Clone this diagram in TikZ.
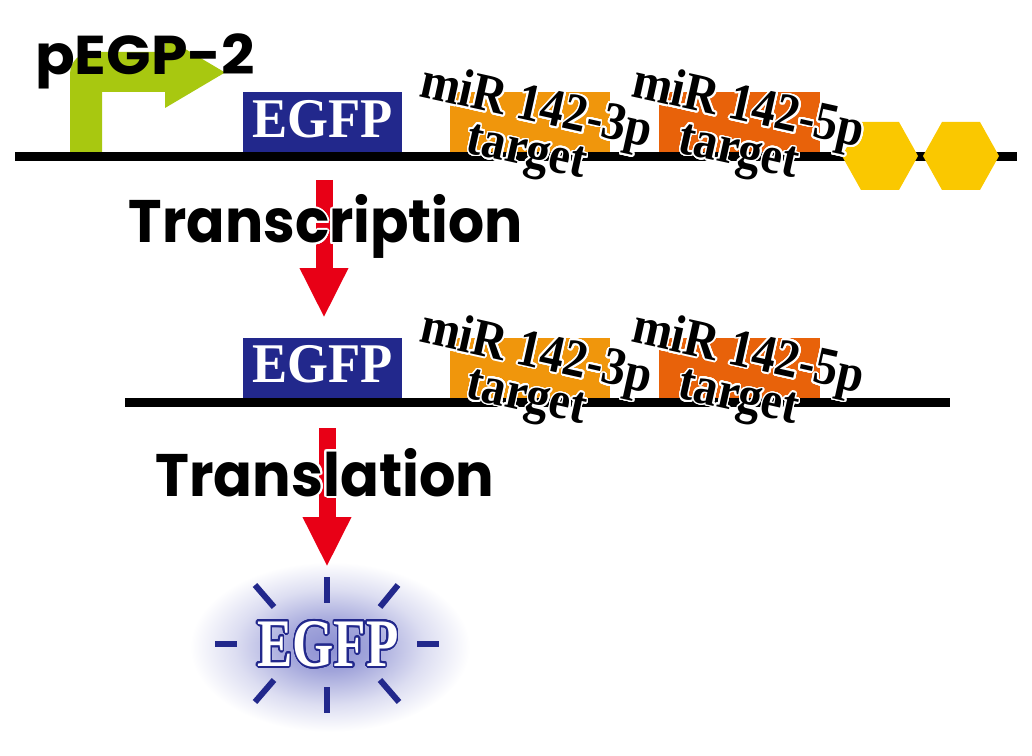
\documentclass[tikz,border=0pt]{standalone}
\usepackage{fontspec}
\setmainfont{Liberation Serif}
\newfontfamily\geofont{Poppins}
\usepackage[copies]{contour}
\contournumber{32}
\usetikzlibrary{arrows.meta}

\definecolor{promgreen}{RGB}{168,200,16}
\definecolor{egfpblue}{RGB}{34,40,140}
\definecolor{mirorangeA}{RGB}{240,150,12}
\definecolor{mirorangeB}{RGB}{232,98,10}
\definecolor{polyyellow}{RGB}{250,200,0}
\definecolor{arrowred}{RGB}{232,0,22}
\definecolor{glowblue}{RGB}{140,144,210}

\pgfdeclareradialshading{egfpglow}{\pgfpoint{0bp}{0bp}}{color(0bp)=(glowblue); color(7bp)=(glowblue!82!white); color(17bp)=(glowblue!30!white); color(25bp)=(white); color(50bp)=(white)}

\tikzset{
  dnaline/.style={line width=6.75pt},
  egfpbox/.style={fill=egfpblue, inner sep=0pt, minimum width=119.25pt, minimum height=45pt},
  egfptext/.style={text=white, inner sep=0pt, font=\bfseries\fontsize{42}{42}\selectfont},
  mirlabel/.style={align=center, inner sep=0pt, rotate=-12.5,
    font=\bfseries\fontsize{40}{18}\selectfont},
  steplabel/.style={anchor=base, inner sep=0pt, font=\geofont\bfseries\fontsize{45}{45}\selectfont},
  stepflow/.style={arrowred, line width=12.75pt, -{Triangle[width=33.75pt,length=37.5pt]}},
  glowray/.style={egfpblue, line width=4.5pt},
}

\newcommand{\mirtext}[1]{\contourlength{1.4pt}\scalebox{0.89}[1]{\contour{white}{miR 142-#1}}\\\scalebox{0.89}[1]{\contour{white}{target}}}

\begin{document}
\begin{tikzpicture}[x=0.75pt,y=0.75pt,yscale=-1,xscale=1]
\useasboundingbox (0,0) rectangle (1032,756);

%Shape: Glow behind the protein
\shade[shading=egfpglow] (330,647) ellipse (140 and 85);

%Shape: Promoter arrow
\fill[promgreen] (70,152) -- (70,74) arc (180:270:22) -- (165,52) -- (165,37) -- (225,72.5) -- (165,108) -- (165,92) -- (102,92) -- (102,152) -- cycle;

%Straight Lines: plasmid and mRNA
\coordinate (dnaL) at (15,156.5);
\coordinate (dnaR) at (1017,156.5);
\coordinate (rnaL) at (125,402);
\coordinate (rnaR) at (950,402);
\draw[dnaline] (dnaL) -- (dnaR);
\draw[dnaline] (rnaL) -- (rnaR);

%Shape: Boxes on the plasmid
\node[egfpbox] (egfpA) at (322.5,122) {};
\node[egfptext] at ([yshift=-2.25pt]egfpA.center) {\scalebox{0.94}[1]{EGFP}};
\fill[mirorangeA] (450,92) rectangle (610,152);
\fill[mirorangeB] (659,92) rectangle (820,152);

%Shape: Boxes on the mRNA
\node[egfpbox] (egfpB) at (322.5,367.5) {};
\node[egfptext] at ([yshift=-2.25pt]egfpB.center) {\scalebox{0.94}[1]{EGFP}};
\fill[mirorangeA] (450,337.5) rectangle (610,397.5);
\fill[mirorangeB] (659,337.5) rectangle (820,397.5);

%Shape: Poly-A hexagons
\foreach \hx in {880,961}
  \fill[polyyellow] (\hx-38,156) -- (\hx-19,122) -- (\hx+19,122) -- (\hx+38,156) -- (\hx+19,190) -- (\hx-19,190) -- cycle;

% Text Node
\node[mirlabel] (mirA) at (531,132) {\mirtext{3p}};
\node[mirlabel] (mirB) at (743,132) {\mirtext{5p}};
\node[mirlabel] (mirC) at (531,377.5) {\mirtext{3p}};
\node[mirlabel] (mirD) at (743,377.5) {\mirtext{5p}};

% Text Node
\node[anchor=base west, inner sep=0pt, font=\geofont\bfseries\fontsize{41}{41}\selectfont] (plasmid) at (35,75) {\scalebox{1.07}[1]{pEGP-2}};

%Straight Lines: transcription and translation
\coordinate (tcTop) at (324,180);
\coordinate (tcTip) at (324,318);
\coordinate (tlTop) at (327,428);
\coordinate (tlTip) at (327,567);
\draw[stepflow] (tcTop) -- (tcTip);
\draw[stepflow] (tlTop) -- (tlTip);

% Text Node
\node[steplabel] (transcription) at (326,243) {\contourlength{1.5pt}\scalebox{0.945}[1]{\contour{white}{Transcription}}};
\node[steplabel] (translation) at (325,496) {\contourlength{1.5pt}\scalebox{0.955}[1]{\contour{white}{Translation}}};

%Straight Lines: rays
\foreach \xa/\ya/\xb/\yb in {327/577/327/603, 327/687/327/713, 215/644/237/644, 417/644/439/644,
    255/585/274/607, 398/585/380/607, 255/702/274/680, 399/702/380/680}
  \draw[glowray] (\xa,\ya) -- (\xb,\yb);

% Text Node
\node[inner sep=0pt, font=\bfseries\fontsize{51}{51}\selectfont] (protein) at (328,645)
  {\scalebox{0.78}[1]{\contourlength{1.4pt}\color{white}\contour{egfpblue}{EGFP}}};

\end{tikzpicture}
\end{document}
